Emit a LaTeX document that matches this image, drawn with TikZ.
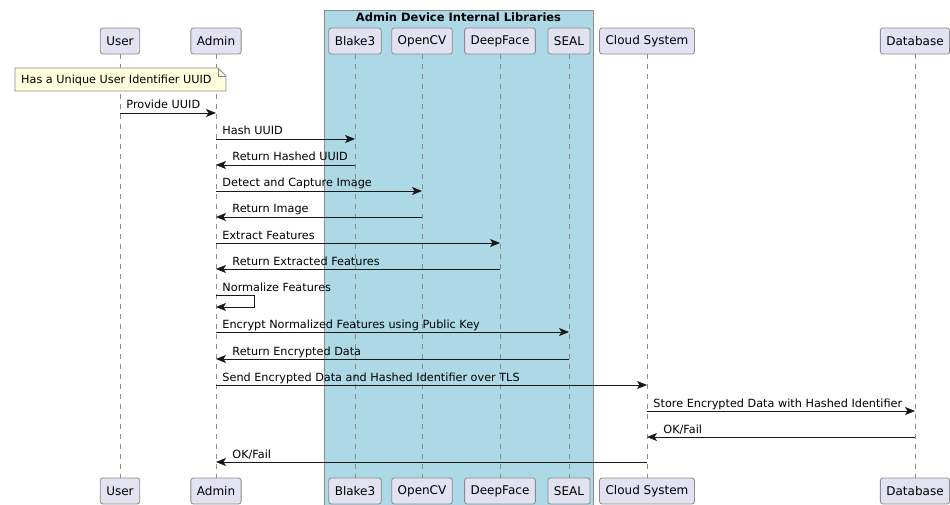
\documentclass[tikz,border=0pt]{standalone}
\usepackage{fontspec}
\setmainfont{DejaVu Sans}
\usepackage{tikz}
\usetikzlibrary{positioning, arrows.meta, shapes}

\definecolor{partfill}{HTML}{E2E2F0}
\definecolor{edgegray}{HTML}{8C8C8C}
\definecolor{libblue}{HTML}{ADD8E6}
\definecolor{notefill}{HTML}{FEFFDD}
\definecolor{ink}{HTML}{181818}

\tikzset{
    part/.style={draw=edgegray, fill=partfill, rounded corners=2.5pt, line width=0.8pt,
        minimum height=26pt, inner xsep=6pt, font=\fontsize{12}{14}\selectfont},
    life/.style={draw=edgegray, line width=0.8pt, dash pattern=on 5pt off 5pt},
    msg/.style={draw=ink, line width=0.9pt, -{Stealth[length=10pt, width=8pt, inset=2.5pt]}},
    lblR/.style={pos=0, anchor=base west, xshift=6pt, yshift=4pt, inner sep=0pt,
        font=\fontsize{11.25}{13}\selectfont},
    lblL/.style={pos=1, anchor=base west, xshift=16pt, yshift=4pt, inner sep=0pt,
        font=\fontsize{11.25}{13}\selectfont}
}

\begin{document}
\begin{tikzpicture}[x=1pt, y=-1pt]
\useasboundingbox (0,0) rectangle (950,505);

% library group
\draw[draw=edgegray, fill=libblue, line width=0.8pt] (324,10) rectangle (593,506);
\node[font=\fontsize{11.5}{13}\selectfont\bfseries] (grouptitle) at (458.5,17) {Admin Device Internal Libraries};

% participants, top and bottom
\node[part] (user) at (120,41) {User};
\node[part] (admin) at (216,41) {Admin};
\node[part] (blake) at (355,41) {Blake3};
\node[part] (opencv) at (422,41) {OpenCV};
\node[part] (deepface) at (500,41) {DeepFace};
\node[part] (seal) at (569,41) {SEAL};
\node[part] (cloud) at (647,41) {Cloud System};
\node[part] (db) at (915,41) {Database};

\node[part] (userB) at (120,491) {User};
\node[part] (adminB) at (216,491) {Admin};
\node[part] (blakeB) at (355,491) {Blake3};
\node[part] (opencvB) at (422,491) {OpenCV};
\node[part] (deepfaceB) at (500,491) {DeepFace};
\node[part] (sealB) at (569,491) {SEAL};
\node[part] (cloudB) at (647,491) {Cloud System};
\node[part] (dbB) at (915,491) {Database};

\foreach \p in {user, admin, blake, opencv, deepface, seal, cloud, db}
    \draw[life] (\p.south) -- (\p B.north);

% note
\draw[draw=edgegray, fill=notefill, line width=0.8pt]
    (15,68) -- (218,68) -- (226,76) -- (226,91) -- (15,91) -- cycle;
\draw[draw=edgegray, line width=0.8pt] (218,68) -- (218,76) -- (226,76);
\node[anchor=west, inner sep=0pt, font=\fontsize{11.25}{13}\selectfont] (uuidnote) at (21,80)
    {Has a Unique User Identifier UUID};

% messages
\draw[msg] (user |- 0,113) -- node[lblR] (m1) {Provide UUID} (admin |- 0,113);
\draw[msg] (admin |- 0,139) -- node[lblR] (m2) {Hash UUID} (blake |- 0,139);
\draw[msg] (blake |- 0,165) -- node[lblL] (m3) {Return Hashed UUID} (admin |- 0,165);
\draw[msg] (admin |- 0,191) -- node[lblR] (m4) {Detect and Capture Image} (opencv |- 0,191);
\draw[msg] (opencv |- 0,217) -- node[lblL] (m5) {Return Image} (admin |- 0,217);
\draw[msg] (admin |- 0,243) -- node[lblR] (m6) {Extract Features} (deepface |- 0,243);
\draw[msg] (deepface |- 0,269) -- node[lblL] (m7) {Return Extracted Features} (admin |- 0,269);
\draw[msg] (admin |- 0,295) -- node[lblR] (m8) {Normalize Features} ++(38,0) -- ++(0,12) -- (admin |- 0,307);
\draw[msg] (admin |- 0,332) -- node[lblR] (m9) {Encrypt Normalized Features using Public Key} (seal |- 0,332);
\draw[msg] (seal |- 0,359) -- node[lblL] (m10) {Return Encrypted Data} (admin |- 0,359);
\draw[msg] (admin |- 0,385) -- node[lblR] (m11) {Send Encrypted Data and Hashed Identifier over TLS} (cloud |- 0,385);
\draw[msg] (cloud |- 0,411) -- node[lblR] (m12) {Store Encrypted Data with Hashed Identifier} (db |- 0,411);
\draw[msg] (db |- 0,437) -- node[lblL] (m13) {OK/Fail} (cloud |- 0,437);
\draw[msg] (cloud |- 0,462) -- node[lblL] (m14) {OK/Fail} (admin |- 0,462);

\end{tikzpicture}
\end{document}
